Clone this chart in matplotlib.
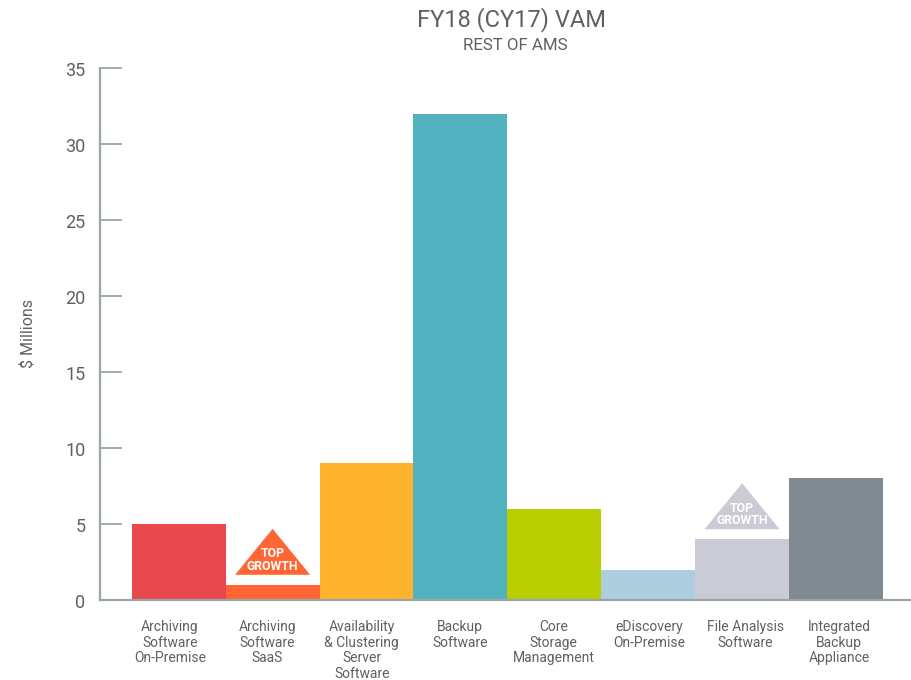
import matplotlib
matplotlib.use("Agg")
import matplotlib.pyplot as plt
import numpy as np
from matplotlib.patches import Polygon
from matplotlib.transforms import ScaledTranslation

categories = ["Archiving\nSoftware\nOn-Premise", "Archiving\nSoftware\nSaaS",
              "Availability\n& Clustering\nServer\nSoftware", "Backup\nSoftware",
              "Core\nStorage\nManagement", "eDiscovery\nOn-Premise",
              "File Analysis\nSoftware", "Integrated\nBackup\nAppliance"]
values = [5, 1, 9, 32, 6, 2, 4, 8]
colors = ["#E8474E", "#FF6633", "#FFB32D", "#51B1BF", "#B9CE00", "#ADCEDE", "#CACBD5", "#7F8B90"]
label_shift = [-8.7, -5.2, -4.7, -0.7, -0.7, 1.3, 3.3, 3.3]
top_growth = {1: "#FF6633", 6: "#CACBD5"}

W, H = 912, 680
TEXT = "#5c6163"
AXIS = "#9aa5aa"
plt.rcParams["font.family"] = ["Roboto", "DejaVu Sans"]
fig = plt.figure(figsize=(W / 100, H / 100), dpi=100)
ax = fig.add_axes([100 / W, 1 - 600 / H, 812 / W, 532 / H])

x = np.arange(len(values))
step = 93.9
center0 = 178.7
ax.bar(x, values, width=1.0, color=colors, linewidth=0, zorder=2)
ax.set_xlim((100 - center0) / step, (912 - center0) / step)
ax.set_ylim(0, 35)

for s in ("top", "right"):
    ax.spines[s].set_visible(False)
for s in ("left", "bottom"):
    ax.spines[s].set_color(AXIS)
    ax.spines[s].set_linewidth(1.6)

ax.set_yticks(range(0, 36, 5))
ax.tick_params(axis="y", direction="in", length=16, width=1.3, color=AXIS,
               pad=10.5, labelsize=13, labelcolor=TEXT)
ax.set_xticks(x + np.array(label_shift) / step)
ax.set_xticklabels(categories, linespacing=1.15)
ax.tick_params(axis="x", length=0, pad=14.5, labelsize=10, labelcolor=TEXT)
for lab in ax.get_yticklabels():
    lab.set_transform(lab.get_transform() + ScaledTranslation(0, -1 / 100, fig.dpi_scale_trans))

for i, c in top_growth.items():
    tr = ScaledTranslation(i, values[i], ax.transData)
    ax.add_patch(Polygon([(-37.5, 10), (37.5, 10), (0, 56)], closed=True, facecolor=c,
                         edgecolor="none", transform=tr, clip_on=False, zorder=3))
    ax.annotate("TOP\nGROWTH", xy=(i, values[i]), xytext=(0, 17.7), textcoords="offset points",
                ha="center", va="center", color="white", fontsize=8.8, fontweight="bold",
                linespacing=0.95, zorder=4)

fig.text(28 / W, 1 - 334 / H, "\\$ Millions", rotation=90, ha="center", va="center",
         fontsize=11.5, color=TEXT)
fig.text(512 / W, 1 - 20 / H, "FY18 (CY17) VAM", ha="center", va="center",
         fontsize=17, color=TEXT)
fig.text(515 / W, 1 - 45 / H, "REST OF AMS", ha="center", va="center",
         fontsize=12.2, color=TEXT)
fig.savefig("out.png", dpi=100)
